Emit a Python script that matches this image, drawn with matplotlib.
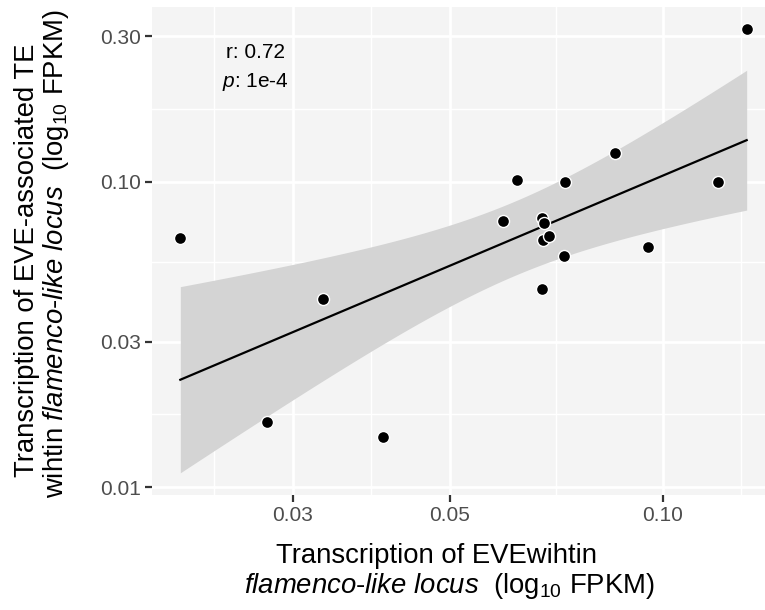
import numpy as np
import matplotlib
matplotlib.use("Agg")
import matplotlib.pyplot as plt
from matplotlib.ticker import NullFormatter

plt.rcParams["font.family"] = ["Liberation Sans", "DejaVu Sans"]
plt.rcParams["mathtext.fontset"] = "custom"
plt.rcParams["mathtext.rm"] = "Liberation Sans"
plt.rcParams["mathtext.it"] = "Liberation Sans:italic"

# EVE transcription (x) vs EVE-associated TE transcription (y), FPKM
eve_fpkm = [0.0208, 0.0276, 0.0331, 0.0402, 0.0594, 0.0622, 0.0674, 0.0678,
            0.0676, 0.0690, 0.0674, 0.0725, 0.0727, 0.0856, 0.0953, 0.1196, 0.1313]
te_fpkm = [0.0656, 0.0163, 0.0414, 0.0146, 0.0747, 0.1013, 0.0761, 0.0732,
           0.0646, 0.0667, 0.0446, 0.0571, 0.1000, 0.1242, 0.0611, 0.1000, 0.3161]

x_breaks = [0.03, 0.05, 0.10]
x_labels = ["0.03", "0.05", "0.10"]
y_breaks = [0.01, 0.03, 0.10, 0.30]
y_labels = ["0.01", "0.03", "0.10", "0.30"]

r_text = "r: 0.72"
p_text = r"$\mathit{p}$: 1e-4"

panel_bg = "#F4F4F4"
ribbon_col = "#D4D4D4"
title_size = 19.8


def minor_breaks(breaks, lo, hi):
    # midpoints between majors (in log space), ggplot style
    b = np.log10(breaks)
    step = b[1] - b[0]
    if np.log10(lo) < b[0]:
        b = np.r_[b[0] - step, b]
    if np.log10(hi) > b[-1]:
        b = np.r_[b, b[-1] + step]
    mids = (b[:-1] + b[1:]) / 2
    mids = mids[(mids > np.log10(lo)) & (mids < np.log10(hi))]
    return 10 ** mids


# linear fit on log10 scale with 95% CI (like geom_smooth(method="lm"))
lx = np.log10(eve_fpkm)
ly = np.log10(te_fpkm)
n = len(lx)
slope, icpt = np.polyfit(lx, ly, 1)
resid = ly - (icpt + slope * lx)
s = np.sqrt(np.sum(resid ** 2) / (n - 2))
t_crit = 2.131  # t(0.975, df=15)
gx = np.linspace(lx.min(), lx.max(), 80)
gy = icpt + slope * gx
se = s * np.sqrt(1 / n + (gx - lx.mean()) ** 2 / np.sum((lx - lx.mean()) ** 2))
lo_band, hi_band = gy - t_crit * se, gy + t_crit * se

# limits with 5% expansion on the log scale
xr = lx.max() - lx.min()
xlim = (10 ** (lx.min() - 0.05 * xr), 10 ** (lx.max() + 0.05 * xr))
ymin = min(ly.min(), lo_band.min())
ymax = max(ly.max(), hi_band.max())
yr = ymax - ymin
ylim = (10 ** (ymin - 0.05 * yr), 10 ** (ymax + 0.05 * yr))

W, H = 765, 610
fig = plt.figure(figsize=(W / 100, H / 100), dpi=100)
ax = fig.add_axes([152 / W, 1 - 495 / H, (775 - 152) / W, (495 - 7) / H])
ax.set_facecolor(panel_bg)
for sp in ax.spines.values():
    sp.set_visible(False)

ax.set_xscale("log")
ax.set_yscale("log")
ax.set_xlim(xlim)
ax.set_ylim(ylim)

ax.set_xticks(x_breaks)
ax.set_xticklabels(x_labels)
ax.set_yticks(y_breaks)
ax.set_yticklabels(y_labels)
ax.set_xticks(minor_breaks(x_breaks, *xlim), minor=True)
ax.set_yticks(minor_breaks(y_breaks, *ylim), minor=True)
ax.xaxis.set_minor_formatter(NullFormatter())
ax.yaxis.set_minor_formatter(NullFormatter())

ax.grid(True, which="major", color="white", lw=2.0)
ax.grid(True, which="minor", color="white", lw=1.0)
ax.set_axisbelow(True)
ax.tick_params(which="major", length=5, width=1.6, color="#333333",
               labelsize=15, labelcolor="#4D4D4D", pad=3)
ax.tick_params(which="minor", length=0)

ax.fill_between(10 ** gx, 10 ** lo_band, 10 ** hi_band, color=ribbon_col, lw=0, zorder=2)
ax.plot(10 ** gx, 10 ** gy, color="black", lw=1.6, zorder=3)
ax.scatter(eve_fpkm, te_fpkm, s=75, c="black", edgecolors="white", linewidths=1.0, zorder=4)

ax.text(255 / W, 1 - 52 / H, r_text, transform=fig.transFigure, ha="center",
        va="center", fontsize=15)
ax.text(255 / W, 1 - 82 / H, p_text, transform=fig.transFigure, ha="center",
        va="center", fontsize=15)

# x-axis title (two lines)
fig.text(436 / W, 1 - 563 / H, "Transcription of EVEwihtin", ha="center",
         va="baseline", fontsize=title_size)
fig.text(449 / W, 1 - 593 / H,
         r"$\mathit{flamenco}$-$\mathit{like\ locus}$  (log$_{10}$ FPKM)",
         ha="center", va="baseline", fontsize=title_size)

# y-axis title (two lines)
fig.text(34 / W, 1 - 260 / H, "Transcription of EVE-associated TE", rotation=90,
         rotation_mode="anchor", ha="center", va="baseline", fontsize=title_size)
fig.text(63 / W, 1 - 254 / H,
         r"wihtin $\mathit{flamenco}$-$\mathit{like\ locus}$  (log$_{10}$ FPKM)",
         rotation=90, rotation_mode="anchor", ha="center", va="baseline",
         fontsize=title_size)

fig.savefig("out.png", dpi=100)
